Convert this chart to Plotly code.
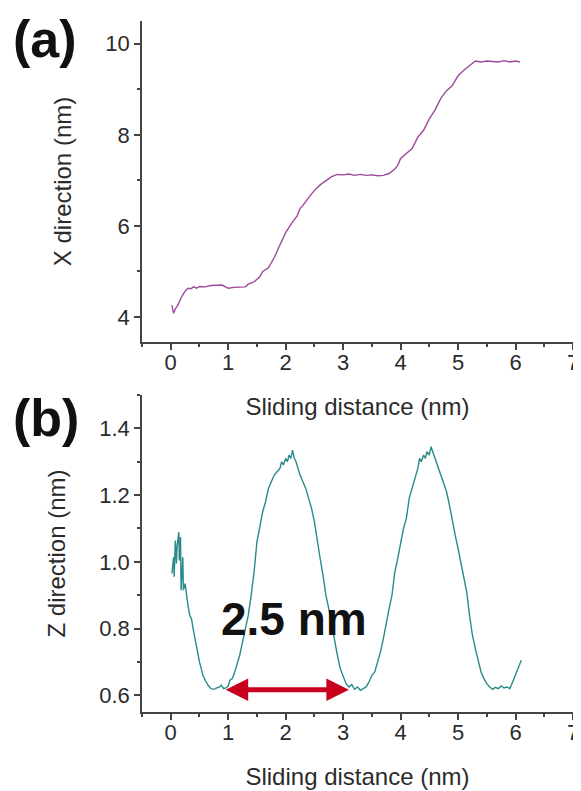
import plotly.graph_objects as go
from plotly.subplots import make_subplots

# ---- panel (a): X direction vs sliding distance ----
dist_a = [0.02, 0.05, 0.08, 0.12, 0.18, 0.24, 0.30, 0.35, 0.40, 0.45, 0.50, 0.60, 0.70, 0.80,
          0.90, 0.95, 1.00, 1.10, 1.20, 1.30, 1.35, 1.45, 1.55, 1.60, 1.70, 1.80, 1.90, 2.00,
          2.10, 2.20, 2.25, 2.30, 2.40, 2.50, 2.60, 2.70, 2.80, 2.90, 3.00, 3.10, 3.20, 3.30,
          3.40, 3.50, 3.60, 3.70, 3.80, 3.90, 3.95, 4.00, 4.10, 4.20, 4.30, 4.40, 4.50, 4.60,
          4.70, 4.80, 4.90, 5.00, 5.10, 5.20, 5.30, 5.40, 5.50, 5.60, 5.70, 5.80, 5.90, 6.00,
          6.08]
x_dir = [4.26, 4.08, 4.18, 4.25, 4.42, 4.55, 4.63, 4.62, 4.66, 4.63, 4.67, 4.66, 4.69, 4.69,
         4.70, 4.66, 4.63, 4.65, 4.65, 4.66, 4.72, 4.77, 4.88, 5.00, 5.08, 5.30, 5.58, 5.85,
         6.05, 6.22, 6.38, 6.45, 6.62, 6.78, 6.90, 6.99, 7.08, 7.13, 7.12, 7.14, 7.11, 7.13,
         7.11, 7.12, 7.10, 7.11, 7.15, 7.25, 7.33, 7.48, 7.60, 7.70, 7.95, 8.10, 8.35, 8.55,
         8.80, 8.97, 9.08, 9.30, 9.42, 9.52, 9.62, 9.60, 9.62, 9.61, 9.60, 9.63, 9.60, 9.62,
         9.60]

# ---- panel (b): Z direction vs sliding distance ----
dist_b = [0.02, 0.05, 0.06, 0.08, 0.10, 0.11, 0.14, 0.15, 0.17, 0.18, 0.21, 0.22, 0.25, 0.28,
          0.30, 0.33, 0.36, 0.40, 0.43, 0.46, 0.50, 0.53, 0.56, 0.60, 0.65, 0.70, 0.75, 0.80,
          0.85, 0.88, 0.92, 0.97, 1.00, 1.03, 1.07, 1.10, 1.15, 1.20, 1.25, 1.30, 1.35, 1.40,
          1.45, 1.50, 1.55, 1.60, 1.65, 1.70, 1.75, 1.80, 1.85, 1.90, 1.93, 1.96, 2.00, 2.03,
          2.06, 2.09, 2.12, 2.15, 2.18, 2.21, 2.25, 2.30, 2.35, 2.40, 2.45, 2.50, 2.55, 2.60,
          2.65, 2.70, 2.75, 2.80, 2.85, 2.90, 2.95, 3.00, 3.05, 3.10, 3.15, 3.20, 3.25, 3.30,
          3.35, 3.40, 3.45, 3.50, 3.55, 3.60, 3.65, 3.70, 3.75, 3.80, 3.85, 3.90, 3.95, 4.00,
          4.05, 4.10, 4.15, 4.20, 4.25, 4.30, 4.33, 4.36, 4.40, 4.43, 4.46, 4.50, 4.53, 4.56,
          4.60, 4.63, 4.66, 4.70, 4.75, 4.80, 4.85, 4.90, 4.95, 5.00, 5.05, 5.10, 5.15, 5.20,
          5.25, 5.30, 5.35, 5.40, 5.45, 5.50, 5.55, 5.60, 5.65, 5.70, 5.75, 5.80, 5.85, 5.90,
          5.95, 6.00, 6.05, 6.10]
z_dir = [0.965, 1.014, 0.955, 1.064, 0.995, 1.044, 1.089, 1.004, 1.074, 0.915, 1.014, 0.915,
         0.935, 0.885, 0.870, 0.840, 0.830, 0.790, 0.760, 0.740, 0.700, 0.680, 0.660, 0.645,
         0.630, 0.620, 0.618, 0.622, 0.625, 0.630, 0.620, 0.623, 0.628, 0.645, 0.650, 0.662,
         0.690, 0.720, 0.760, 0.800, 0.840, 0.900, 0.970, 1.060, 1.110, 1.150, 1.180, 1.220,
         1.240, 1.260, 1.270, 1.280, 1.300, 1.290, 1.310, 1.300, 1.320, 1.310, 1.335, 1.310,
         1.300, 1.280, 1.260, 1.240, 1.220, 1.190, 1.160, 1.120, 1.060, 1.010, 0.960, 0.900,
         0.860, 0.810, 0.770, 0.720, 0.680, 0.655, 0.635, 0.625, 0.632, 0.618, 0.625, 0.615,
         0.620, 0.625, 0.640, 0.660, 0.670, 0.700, 0.730, 0.770, 0.820, 0.860, 0.900, 0.970,
         1.010, 1.060, 1.100, 1.130, 1.190, 1.220, 1.250, 1.280, 1.310, 1.300, 1.320, 1.310,
         1.330, 1.320, 1.345, 1.330, 1.310, 1.300, 1.280, 1.265, 1.240, 1.210, 1.170, 1.120,
         1.080, 1.040, 1.000, 0.960, 0.910, 0.840, 0.780, 0.740, 0.700, 0.670, 0.650, 0.635,
         0.625, 0.618, 0.624, 0.620, 0.628, 0.622, 0.625, 0.620, 0.640, 0.660, 0.680, 0.705]

x_ticks = [0, 1, 2, 3, 4, 5, 6, 7]
ya_ticks = [4, 6, 8, 10]
yb_ticks = [0.6, 0.8, 1.0, 1.2, 1.4]
yb_ticktext = ["0.6", "0.8", "1.0", "1.2", "1.4"]

arrow_start = 0.93
arrow_end = 3.10
arrow_level = 0.617
period_label = "2.5 nm"

FONT = "Liberation Sans, Arial, sans-serif"
TXT = "#2b2b2b"
AX = "#444444"

fig = make_subplots(rows=2, cols=1, vertical_spacing=0.0)

fig.add_trace(go.Scatter(x=dist_a, y=x_dir, mode="lines",
                         line=dict(color="#9c4a9e", width=1.4), showlegend=False), row=1, col=1)
fig.add_trace(go.Scatter(x=dist_b, y=z_dir, mode="lines",
                         line=dict(color="#2a8a8a", width=1.4), showlegend=False), row=2, col=1)

common_x = dict(range=[-0.5, 7], tickvals=x_ticks, showline=True, linecolor=AX, linewidth=1.5,
                ticks="outside", ticklen=6, tickwidth=1.5, tickcolor=AX, automargin=False,
                ticklabelstandoff=-6,
                minor=dict(dtick=0.5, tick0=0, ticks="outside", ticklen=3, tickwidth=1.5, tickcolor=AX),
                showgrid=False, zeroline=False,
                tickfont=dict(family=FONT, size=22, color=TXT),
                title=dict(text="Sliding distance (nm)", font=dict(family=FONT, size=24, color=TXT),
                           standoff=24))
fig.update_xaxes(**common_x, row=1, col=1)
fig.update_xaxes(**common_x, row=2, col=1)

common_y = dict(showline=True, linecolor=AX, linewidth=1.5, ticks="outside", ticklen=6,
                tickwidth=1.5, tickcolor=AX, showgrid=False, zeroline=False, automargin=False,
                tickfont=dict(family=FONT, size=22, color=TXT))
fig.update_yaxes(**common_y, range=[3.45, 10.5], tickvals=ya_ticks,
                 minor=dict(dtick=1, tick0=0, ticks="outside", ticklen=3, tickwidth=1.5, tickcolor=AX),
                 title=dict(text="X direction (nm)", font=dict(family=FONT, size=24, color=TXT),
                            standoff=27),
                 domain=[0.5355, 1.0], row=1, col=1)
fig.update_yaxes(**common_y, range=[0.55, 1.5], tickvals=yb_ticks, ticktext=yb_ticktext,
                 minor=dict(dtick=0.1, tick0=0, ticks="outside", ticklen=3, tickwidth=1.5, tickcolor=AX),
                 title=dict(text="Z direction (nm)", font=dict(family=FONT, size=24, color=TXT),
                            standoff=27),
                 domain=[0.0, 0.4588], row=2, col=1)

annotations = [
    dict(text="<b>(a)</b>", xref="paper", yref="paper", x=-0.304, y=1.0185, xanchor="left",
         yanchor="top", showarrow=False, font=dict(family=FONT, size=52, color="#111111")),
    dict(text="<b>(b)</b>", xref="paper", yref="paper", x=-0.304, y=0.4255, xanchor="left",
         yanchor="middle", showarrow=False, font=dict(family=FONT, size=52, color="#111111")),
    dict(text="<b>" + period_label + "</b>", xref="x2", yref="y2", x=2.15, y=0.83,
         xanchor="center", yanchor="middle", showarrow=False,
         font=dict(family=FONT, size=46, color="#111111")),
    dict(text="", xref="x2", yref="y2", x=arrow_end, y=arrow_level, axref="x2", ayref="y2",
         ax=arrow_start, ay=arrow_level, showarrow=True, arrowhead=2, arrowside="end+start",
         arrowwidth=5, arrowsize=0.9, arrowcolor="#c8001e", standoff=0, startstandoff=0),
]

# page body adds an 8px offset, so the figure is 8px smaller and margins shifted
fig.update_layout(width=573, height=783, margin=dict(l=134, r=8, t=13, b=79),
                  plot_bgcolor="white", paper_bgcolor="white", annotations=annotations,
                  font=dict(family=FONT, color=TXT))

fig.write_html("out.html")
